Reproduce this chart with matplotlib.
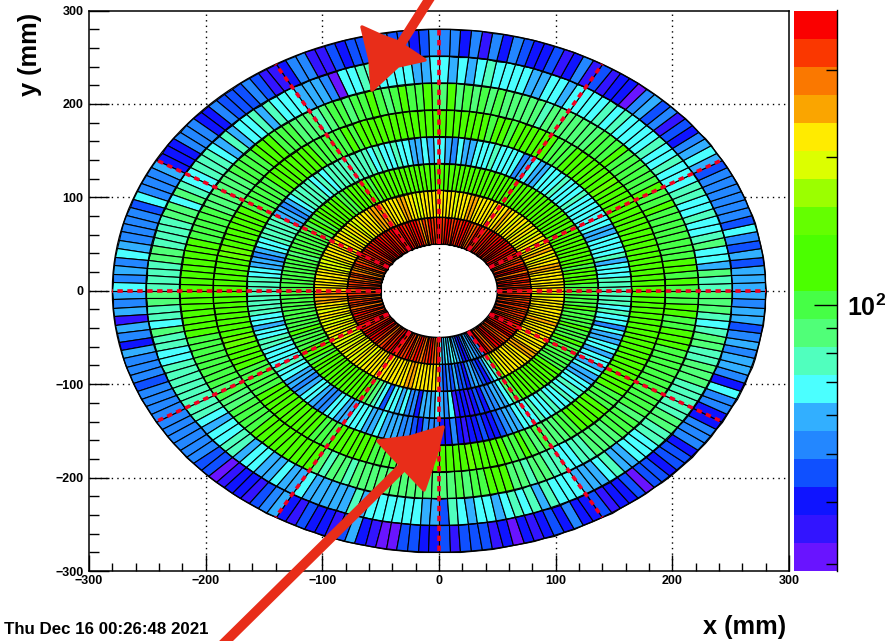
import numpy as np
import matplotlib
matplotlib.use("Agg")
import matplotlib.pyplot as plt
from matplotlib.colors import ListedColormap, LogNorm
from matplotlib.patches import Polygon
from matplotlib.lines import Line2D
from matplotlib.ticker import FixedLocator, FixedFormatter, NullFormatter

plt.rcParams['font.family'] = ['Liberation Sans', 'DejaVu Sans']
plt.rcParams['font.weight'] = 'bold'
plt.rcParams['mathtext.fontset'] = 'custom'
plt.rcParams['mathtext.bf'] = 'Liberation Sans:bold'
plt.rcParams['mathtext.rm'] = 'Liberation Sans:bold'

palette = ['#6914ff', '#3214ff', '#0f14ff', '#0f50ff', '#2387ff', '#32afff', '#4bffff',
           '#50ffbe', '#50ff78', '#46ff46', '#4bff00', '#4bff00', '#64ff00', '#9bff00',
           '#dcff00', '#ffeb00', '#faa500', '#fa7800', '#fa3700', '#fa0000']
z_min, z_max = 29, 395
ring_edges = [50, 78.75, 107.5, 136.25, 165, 193.75, 222.5, 251.25, 280]
n_cells = 192
spoke_angles = [0, 30, 60, 90, 120, 150, 180, 210, 240, 270, 300, 330]

ring1 = [320,320,320,320,365,320,320,365,281,365,365,320,320,320,281,320,
 365,320,365,365,320,365,365,320,365,365,320,365,320,365,320,320,
 320,365,320,281,320,320,365,365,320,365,320,320,365,365,320,320,
 365,320,320,365,281,320,247,320,365,365,320,365,320,365,365,320,
 365,365,320,365,365,320,365,365,365,320,365,365,320,365,320,365,
 320,320,281,320,320,281,247,281,320,320,281,320,320,320,320,281,
 281,320,320,281,320,320,320,281,320,320,365,320,320,320,365,320,
 365,320,365,365,320,365,365,320,365,281,320,365,320,365,320,365,
 320,365,320,320,365,281,320,365,320,281,320,320,365,320,281,320,
 67,59,67,59,67,67,59,52,40,40,52,59,59,52,59,52,
 365,365,320,281,320,365,365,320,320,281,320,365,365,320,365,320,
 320,365,320,281,320,320,320,281,320,320,320,320,281,320,320,281]
ring2 = [216,216,216,216,216,216,216,247,247,216,216,190,216,247,216,216,
 190,216,216,190,190,216,216,190,216,216,190,216,216,247,216,216,
 216,216,216,216,216,216,247,247,216,216,216,190,216,216,216,216,
 216,216,216,216,216,190,190,216,216,247,247,216,216,216,216,247,
 247,247,247,216,216,216,216,190,190,216,216,190,216,216,216,216,
 216,216,216,216,216,190,190,190,190,216,216,216,216,216,216,216,
 247,247,247,247,216,216,190,216,216,190,190,190,216,190,216,190,
 190,190,190,190,216,190,216,190,216,216,190,216,216,216,216,216,
 216,216,216,216,216,216,216,247,247,216,216,216,216,216,216,216,
 52,45,52,45,59,45,45,40,52,59,52,45,40,52,67,76,
 146,190,216,216,216,216,216,216,216,247,247,247,216,216,216,216,
 216,216,216,216,216,247,216,216,216,216,216,216,216,216,190,190]
ring3 = [99,99,113,113,113,113,99,113,113,113,113,113,113,113,113,113,
 113,113,113,113,113,128,113,113,128,128,113,128,113,113,113,113,
 113,113,113,113,113,113,113,113,128,113,113,128,113,128,113,113,
 113,128,113,113,128,113,128,113,113,113,128,113,113,113,99,113,
 113,113,113,113,99,99,113,113,113,113,113,113,99,113,99,99,
 99,99,99,99,99,99,87,99,99,99,99,99,99,99,99,99,
 99,99,99,99,99,99,99,99,99,99,113,99,99,99,99,113,
 113,113,99,113,113,113,113,113,113,113,113,113,113,113,113,113,
 99,87,76,67,45,67,67,59,67,52,52,40,59,59,59,67,
 59,52,67,35,40,40,35,40,45,40,52,52,59,59,67,87,
 99,113,113,113,113,113,113,113,113,113,113,99,99,99,99,99,
 99,99,113,99,99,99,113,99,99,99,99,113,99,99,99,99]
ring4 = [76,76,76,67,67,67,59,76,67,67,67,67,59,59,67,67,
 67,67,67,67,67,76,67,67,67,76,67,67,67,59,59,67,
 59,52,67,67,67,67,76,67,67,67,59,59,67,52,59,67,
 67,59,67,59,59,67,67,76,67,67,76,67,76,76,76,76,
 76,76,76,76,67,76,67,76,76,76,76,67,59,52,59,59,
 76,76,76,76,76,67,67,59,52,59,59,67,67,76,76,76,
 76,76,76,76,76,67,67,59,67,67,76,76,67,67,67,67,
 76,67,67,59,59,52,59,67,67,59,52,52,67,67,59,59,
 67,67,67,59,59,67,59,59,59,52,52,45,40,52,52,52,
 40,40,52,40,35,40,40,45,40,40,45,52,59,59,67,67,
 67,76,67,67,76,67,67,76,67,76,67,67,59,59,67,59,
 67,67,59,67,67,59,59,67,52,67,67,76,67,76,76,76]
ring5 = [113,113,113,128,128,113,113,128,128,128,113,113,113,113,128,113,
 113,113,128,113,146,128,113,113,113,113,128,113,99,99,99,113,
 113,113,113,113,113,99,113,113,99,113,128,113,113,128,113,113,
 113,113,128,113,128,113,113,113,128,113,113,113,99,113,99,99,
 99,99,99,113,113,128,128,113,113,113,113,99,99,99,99,99,
 99,113,113,113,113,113,113,113,146,146,128,128,113,113,113,113,
 113,113,113,113,113,113,113,128,146,146,113,113,113,113,99,99,
 99,99,99,113,113,113,113,113,128,128,113,113,113,99,99,99,
 113,113,113,128,113,113,99,99,99,99,87,113,113,113,128,128,
 113,128,113,128,146,128,128,128,113,113,99,99,113,99,87,99,
 87,87,87,99,99,113,113,113,113,113,99,99,99,113,113,113,
 113,128,128,128,113,113,113,128,128,113,128,128,113,128,113,113]
ring6 = [99,113,99,113,113,99,99,99,99,99,99,99,99,113,99,99,
 113,99,99,99,99,99,99,113,99,99,99,87,87,87,87,87,
 87,87,76,87,87,87,87,87,99,87,99,87,99,87,113,87,
 99,113,99,99,113,99,87,99,113,99,99,87,99,99,87,76,
 87,87,87,99,99,99,113,113,113,99,99,99,99,87,87,87,
 87,87,87,99,99,99,99,99,113,113,113,113,113,113,113,113,
 113,113,113,113,113,113,113,99,99,99,99,99,99,99,99,87,
 99,87,87,99,99,99,99,113,113,113,113,113,113,113,113,113,
 87,76,87,87,76,87,87,87,87,87,87,87,87,87,87,87,
 87,87,99,87,99,99,113,113,113,87,87,76,87,87,76,76,
 67,67,76,76,87,87,87,87,99,99,99,87,99,99,99,99,
 99,99,99,99,99,99,99,113,113,113,99,99,113,113,99,99]
ring7 = [76,76,87,59,67,67,87,76,67,67,76,67,67,76,76,67,
 67,67,76,67,67,76,67,67,67,67,76,67,76,67,67,67,
 67,59,67,67,59,59,67,67,67,67,76,67,59,67,59,67,
 67,59,59,67,67,67,67,76,76,67,67,31,52,59,59,59,
 67,67,67,76,59,76,67,67,59,76,59,67,76,76,76,67,
 67,76,87,67,87,87,76,76,76,76,87,87,76,76,76,76,
 87,87,76,76,67,87,76,76,67,67,76,76,76,76,76,76,
 76,76,67,59,67,67,76,76,59,67,67,59,59,67,59,59,
 67,59,59,59,59,59,76,59,67,67,67,67,67,67,59,59,
 45,76,67,59,67,67,59,67,76,67,76,59,76,67,67,67,
 59,59,59,67,76,59,59,67,67,67,76,76,87,87,76,76,
 76,76,76,87,87,87,76,76,87,87,76,67,76,87,87,87]
ring8 = [59,59,59,45,59,45,52,67,45,52,52,52,52,52,52,45,
 59,67,59,52,40,45,35,52,45,59,52,31,40,40,35,45,
 35,52,40,35,45,40,40,45,52,40,52,35,52,40,52,52,
 59,45,40,45,45,52,52,45,45,40,45,35,35,52,52,40,
 35,35,45,52,45,45,45,52,40,40,52,52,52,40,40,40,
 59,52,52,52,67,45,52,52,52,52,59,67,52,59,52,67,
 59,52,59,35,59,52,40,59,52,52,52,45,52,52,52,52,
 52,52,52,52,52,52,45,45,31,35,40,40,35,45,52,59,
 40,35,45,40,40,35,45,59,40,35,33,31,45,45,40,40,
 45,35,45,45,45,35,40,31,40,35,40,45,40,52,40,40,
 45,35,40,40,45,31,45,45,40,45,45,40,52,52,52,40,
 40,52,52,67,40,52,59,59,52,59,52,45,59,59,52,59]
rings = [ring1, ring2, ring3, ring4, ring5, ring6, ring7, ring8]

W, H = 886, 641
fig = plt.figure(figsize=(W / 100, H / 100), dpi=100, facecolor='white')


def axes_box(l, t, r, b):
    return [l / W, 1 - b / H, (r - l) / W, (b - t) / H]


ax = fig.add_axes(axes_box(89, 10.5, 789, 571))
ax.set_xlim(-300, 300)
ax.set_ylim(-300, 300)
ax.set_axisbelow(True)

theta = np.deg2rad(np.linspace(0, 360, n_cells + 1))
rr, tt = np.meshgrid(ring_edges, theta)
X = rr * np.cos(tt)
Y = rr * np.sin(tt)
C = np.array(rings).T
cmap = ListedColormap(palette)
norm = LogNorm(vmin=z_min, vmax=z_max)
mesh = ax.pcolormesh(X, Y, C, cmap=cmap, norm=norm, edgecolors='black',
                     linewidth=0.8, antialiased=True, zorder=2)

# ring boundaries read a little heavier than the cell edges
circle = np.deg2rad(np.arange(0, 361))
for r in ring_edges:
    ax.plot(r * np.cos(circle), r * np.sin(circle), color='black', lw=0.95, zorder=3)

for a in spoke_angles:
    ca, sa = np.cos(np.deg2rad(a)), np.sin(np.deg2rad(a))
    ax.plot([50 * ca, 280 * ca], [50 * sa, 280 * sa], color='#f00020', lw=2.6,
            dashes=(1.5, 1.25), zorder=4)

ax.grid(False)
for g in [-200, -100, 0, 100, 200]:
    ax.axvline(g, color='black', lw=1.0, dashes=(1, 3), zorder=1)
    ax.axhline(g, color='black', lw=1.0, dashes=(1, 3), zorder=1)

xy_major = [-300, -200, -100, 0, 100, 200, 300]
ax.set_xticks(xy_major)
ax.set_yticks(xy_major)
ax.set_xticklabels(['\u2212300', '\u2212200', '\u2212100', '0', '100', '200', '300'])
ax.set_yticklabels(['\u2212300', '\u2212200', '\u2212100', '0', '100', '200', '300'])
minor = [v for v in range(-300, 301, 20) if v % 100]
ax.set_xticks(minor, minor=True)
ax.set_yticks(minor, minor=True)
ax.tick_params(axis='x', which='major', direction='in', length=11.5, width=1.0,
               labelsize=9, pad=3, top=False)
ax.tick_params(axis='x', which='minor', direction='in', length=5.8, width=1.0, top=False)
ax.tick_params(axis='y', which='major', direction='in', length=14.4, width=1.0,
               labelsize=9, pad=4, right=False)
ax.tick_params(axis='y', which='minor', direction='in', length=7.2, width=1.0, right=False)
for s in ax.spines.values():
    s.set_linewidth(1.1)
    s.set_zorder(6)

cax = fig.add_axes(axes_box(794, 10.5, 837, 571))
cb = fig.colorbar(mesh, cax=cax)
cb.outline.set_visible(False)
cax.spines['right'].set_visible(True)
cax.yaxis.set_major_locator(FixedLocator([100]))
cax.yaxis.set_major_formatter(FixedFormatter([r'$\mathbf{10^{2}}$']))
cax.yaxis.set_minor_locator(FixedLocator([30, 40, 50, 60, 70, 80, 90, 200, 300]))
cax.yaxis.set_minor_formatter(NullFormatter())
cax.tick_params(axis='y', which='major', direction='in', length=16.5, width=1.0,
                labelsize=18, pad=7)
cax.tick_params(axis='y', which='minor', direction='in', length=8, width=1.0)
cax.spines['right'].set_linewidth(1.0)

fig.text(745 / W, 1 - 627 / H, 'x (mm)', fontsize=18.3, fontweight='bold', ha='center', va='center')
fig.text(30 / W, 1 - 54 / H, 'y (mm)', fontsize=18.3, fontweight='bold', ha='center', va='center',
         rotation=90)
fig.text(4 / W, 1 - 629 / H, 'Thu Dec 16 00:26:48 2021', fontsize=12.2, fontweight='bold',
         ha='left', va='center')


def px(points):
    return [(x / W, 1 - y / H) for x, y in points]


red = '#e82d19'
top_arrow = [(362, 27), (382, 36), (398, 42), (425, 60), (398, 66), (372, 90), (370, 60)]
low_arrow = [(378, 441), (410, 437), (443, 427), (436, 455), (424, 490), (405, 470)]
fig.add_artist(Polygon(px(top_arrow), closed=True, transform=fig.transFigure, fc=red, ec=red, lw=2.5,
                       joinstyle='round', zorder=20))
fig.add_artist(Polygon(px(low_arrow), closed=True, transform=fig.transFigure, fc=red, ec=red, lw=2.5,
                       joinstyle='round', zorder=20))
for seg in ([(430, -2), (397, 50)], [(222, 645), (425, 445)]):
    pts = px(seg)
    fig.add_artist(Line2D([pts[0][0], pts[1][0]], [pts[0][1], pts[1][1]],
                          transform=fig.transFigure, color=red, lw=7, zorder=20))

fig.savefig('out.png', dpi=100, facecolor='white')
